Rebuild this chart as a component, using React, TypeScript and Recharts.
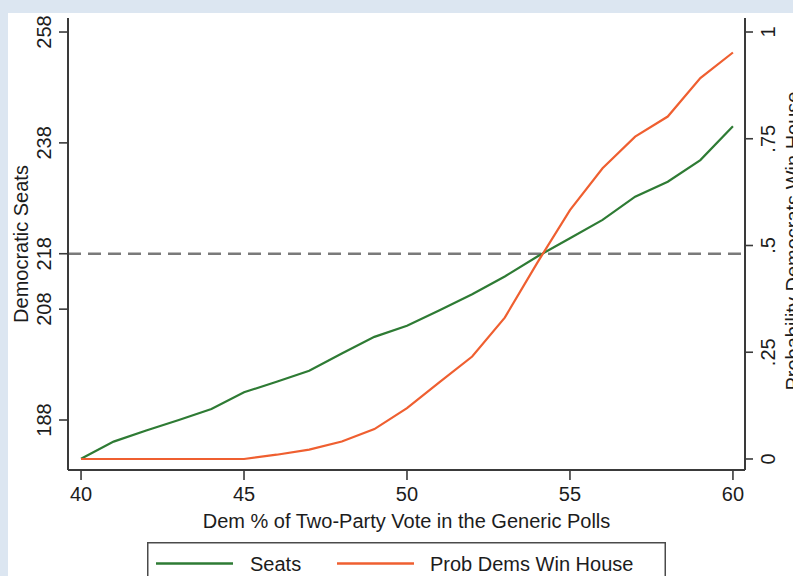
import React from 'react';
import { LineChart, Line, XAxis, YAxis, ReferenceLine, Legend } from 'recharts';

// ---- data ----
const votePct = [40, 41, 42, 43, 44, 45, 46, 47, 48, 49, 50, 51, 52, 53, 54, 55, 56, 57, 58, 59, 60];
const seats = [181.0, 184.1, 186.1, 188.0, 190.0, 193.0, 194.9, 196.9, 200.0, 203.0, 205.0, 207.8, 210.7, 213.9, 217.5, 220.8, 224.1, 228.3, 231.0, 234.9, 241.0];
const probWin = [0, 0, 0, 0, 0, 0, 0.01, 0.022, 0.041, 0.07, 0.119, 0.18, 0.24, 0.331, 0.46, 0.583, 0.681, 0.755, 0.802, 0.892, 0.952];
const xTicks = [40, 45, 50, 55, 60];
const seatTicks = [188, 208, 218, 238, 258];
const probTicks = [0, 0.25, 0.5, 0.75, 1];
const probTickLabels = ['0', '.25', '.5', '.75', '1'];
const majoritySeats = 218;
const legendOrder = ['Seats', 'Prob Dems Win House'];

const data = votePct.map((x, i) => ({ x, seats: seats[i], prob: probWin[i] }));

const FONT = '"Liberation Sans", Arial, Helvetica, sans-serif';
const TEXT = '#1c1c1c';
const AXIS = '#3a3a3a';
const BG = '#dce6f1';
const GREEN = '#2e7b34';
const RED = '#ef5f30';

const xDomain = [39.6, 60.37];
const seatDomain = [178.98, 260.53];
const probDomain = [-0.0258, 1.0328];

const XTick = (p: any) => (
  <text x={p.x} y={p.y + 21} textAnchor="middle" fontFamily={FONT} fontSize={20} fill={TEXT}>
    {p.payload.value}
  </text>
);

const LeftTick = (p: any) => {
  const x = p.x - 8;
  const y = p.y;
  return (
    <text x={x} y={y} transform={`rotate(-90 ${x} ${y})`} textAnchor="middle" fontFamily={FONT} fontSize={20} fill={TEXT}>
      {p.payload.value}
    </text>
  );
};

const RightTick = (p: any) => {
  const x = p.x + 22.5;
  const y = p.y;
  const idx = probTicks.indexOf(p.payload.value);
  return (
    <text x={x} y={y} transform={`rotate(-90 ${x} ${y})`} textAnchor="middle" fontFamily={FONT} fontSize={20} fill={TEXT}>
      {idx >= 0 ? probTickLabels[idx] : p.payload.value}
    </text>
  );
};

const LeftTitle = (props: any) => {
  const vb = props.viewBox || { x: 0, y: 18, width: 68, height: 452 };
  const x = vb.x + 27.5;
  const y = vb.y + vb.height / 2;
  return (
    <text x={x} y={y} transform={`rotate(-90 ${x} ${y})`} textAnchor="middle" fontFamily={FONT} fontSize={20} fill={TEXT}>
      Democratic Seats
    </text>
  );
};

const RightTitle = (props: any) => {
  const vb = props.viewBox || { x: 745, y: 18, width: 48, height: 452 };
  const x = vb.x + 55;
  const y = vb.y + vb.height / 2 - 3;
  return (
    <text x={x} y={y} transform={`rotate(-90 ${x} ${y})`} textAnchor="middle" fontFamily={FONT} fontSize={20} fill={TEXT}>
      Probability Democrats Win House
    </text>
  );
};

const XTitle = (props: any) => {
  const vb = props.viewBox || { x: 68, y: 470, width: 677, height: 30 };
  return (
    <text x={vb.x + vb.width / 2} y={vb.y + 57.5} textAnchor="middle" fontFamily={FONT} fontSize={20} fill={TEXT}>
      Dem % of Two-Party Vote in the Generic Polls
    </text>
  );
};

const LegendBox = (props: any) => {
  const raw = (props.payload || []) as any[];
  const items = legendOrder
    .map((name) => raw.find((it) => it.value === name))
    .filter(Boolean) as any[];
  const slots = [
    { lx: 9, tx: 103 },
    { lx: 190, tx: 283 },
  ];
  return (
    <svg width={519} height={40} style={{ display: 'block', overflow: 'visible' }}>
      <rect x={0.75} y={0.75} width={517.5} height={60} fill="#ffffff" stroke="#4a4a4a" strokeWidth={1.5} />
      {items.slice(0, 2).map((it, i) => (
        <g key={i}>
          <line x1={slots[i].lx} x2={slots[i].lx + 77} y1={21.5} y2={21.5} stroke={it.color} strokeWidth={2.4} />
          <text x={slots[i].tx} y={29} fontFamily={FONT} fontSize={20} fill={TEXT}>
            {it.value}
          </text>
        </g>
      ))}
    </svg>
  );
};

export default function App() {
  return (
    <div style={{ position: 'absolute', left: 0, top: 0, width: 793, height: 576, background: BG, overflow: 'hidden' }}>
      <div style={{ position: 'absolute', left: 8, top: 13, width: 785, height: 563, background: '#ffffff' }} />
      <div style={{ position: 'absolute', left: 0, top: 0 }}>
        <LineChart width={793} height={576} data={data} margin={{ top: 18, right: 0, bottom: 76, left: 0 }}>
          <XAxis
            dataKey="x"
            type="number"
            domain={xDomain}
            allowDataOverflow
            ticks={xTicks}
            interval={0}
            height={30}
            tickSize={10}
            tickMargin={0}
            tick={XTick}
            tickLine={{ stroke: AXIS, strokeWidth: 1.6 }}
            axisLine={{ stroke: AXIS, strokeWidth: 2 }}
            label={XTitle}
          />
          <XAxis
            xAxisId="top"
            orientation="top"
            dataKey="x"
            type="number"
            domain={xDomain}
            allowDataOverflow
            height={0}
            tick={false}
            tickLine={false}
            axisLine={{ stroke: AXIS, strokeWidth: 2 }}
          />
          <YAxis
            yAxisId="left"
            orientation="left"
            type="number"
            domain={seatDomain}
            allowDataOverflow
            ticks={seatTicks}
            interval={0}
            width={68}
            tickSize={9}
            tickMargin={0}
            tick={LeftTick}
            tickLine={{ stroke: AXIS, strokeWidth: 1.6 }}
            axisLine={{ stroke: AXIS, strokeWidth: 2 }}
            label={LeftTitle}
          />
          <YAxis
            yAxisId="right"
            orientation="right"
            type="number"
            domain={probDomain}
            allowDataOverflow
            ticks={probTicks}
            interval={0}
            width={48}
            tickSize={8}
            tickMargin={0}
            tick={RightTick}
            tickLine={{ stroke: AXIS, strokeWidth: 1.6 }}
            axisLine={{ stroke: AXIS, strokeWidth: 2 }}
            label={RightTitle}
          />
          <ReferenceLine yAxisId="left" y={majoritySeats} stroke="#7a7a7a" strokeWidth={2.5} strokeDasharray="13 7" />
          <Line
            yAxisId="left"
            dataKey="seats"
            name="Seats"
            stroke={GREEN}
            strokeWidth={2.2}
            dot={false}
            activeDot={false}
            isAnimationActive={false}
            type="linear"
          />
          <Line
            yAxisId="right"
            dataKey="prob"
            name="Prob Dems Win House"
            stroke={RED}
            strokeWidth={2.2}
            dot={false}
            activeDot={false}
            isAnimationActive={false}
            type="linear"
          />
          <Legend
            layout="horizontal"
            verticalAlign="middle"
            align="center"
            width={519}
            height={40}
            wrapperStyle={{ left: 147, top: 542, width: 519, height: 40 }}
            content={LegendBox}
          />
        </LineChart>
      </div>
    </div>
  );
}
